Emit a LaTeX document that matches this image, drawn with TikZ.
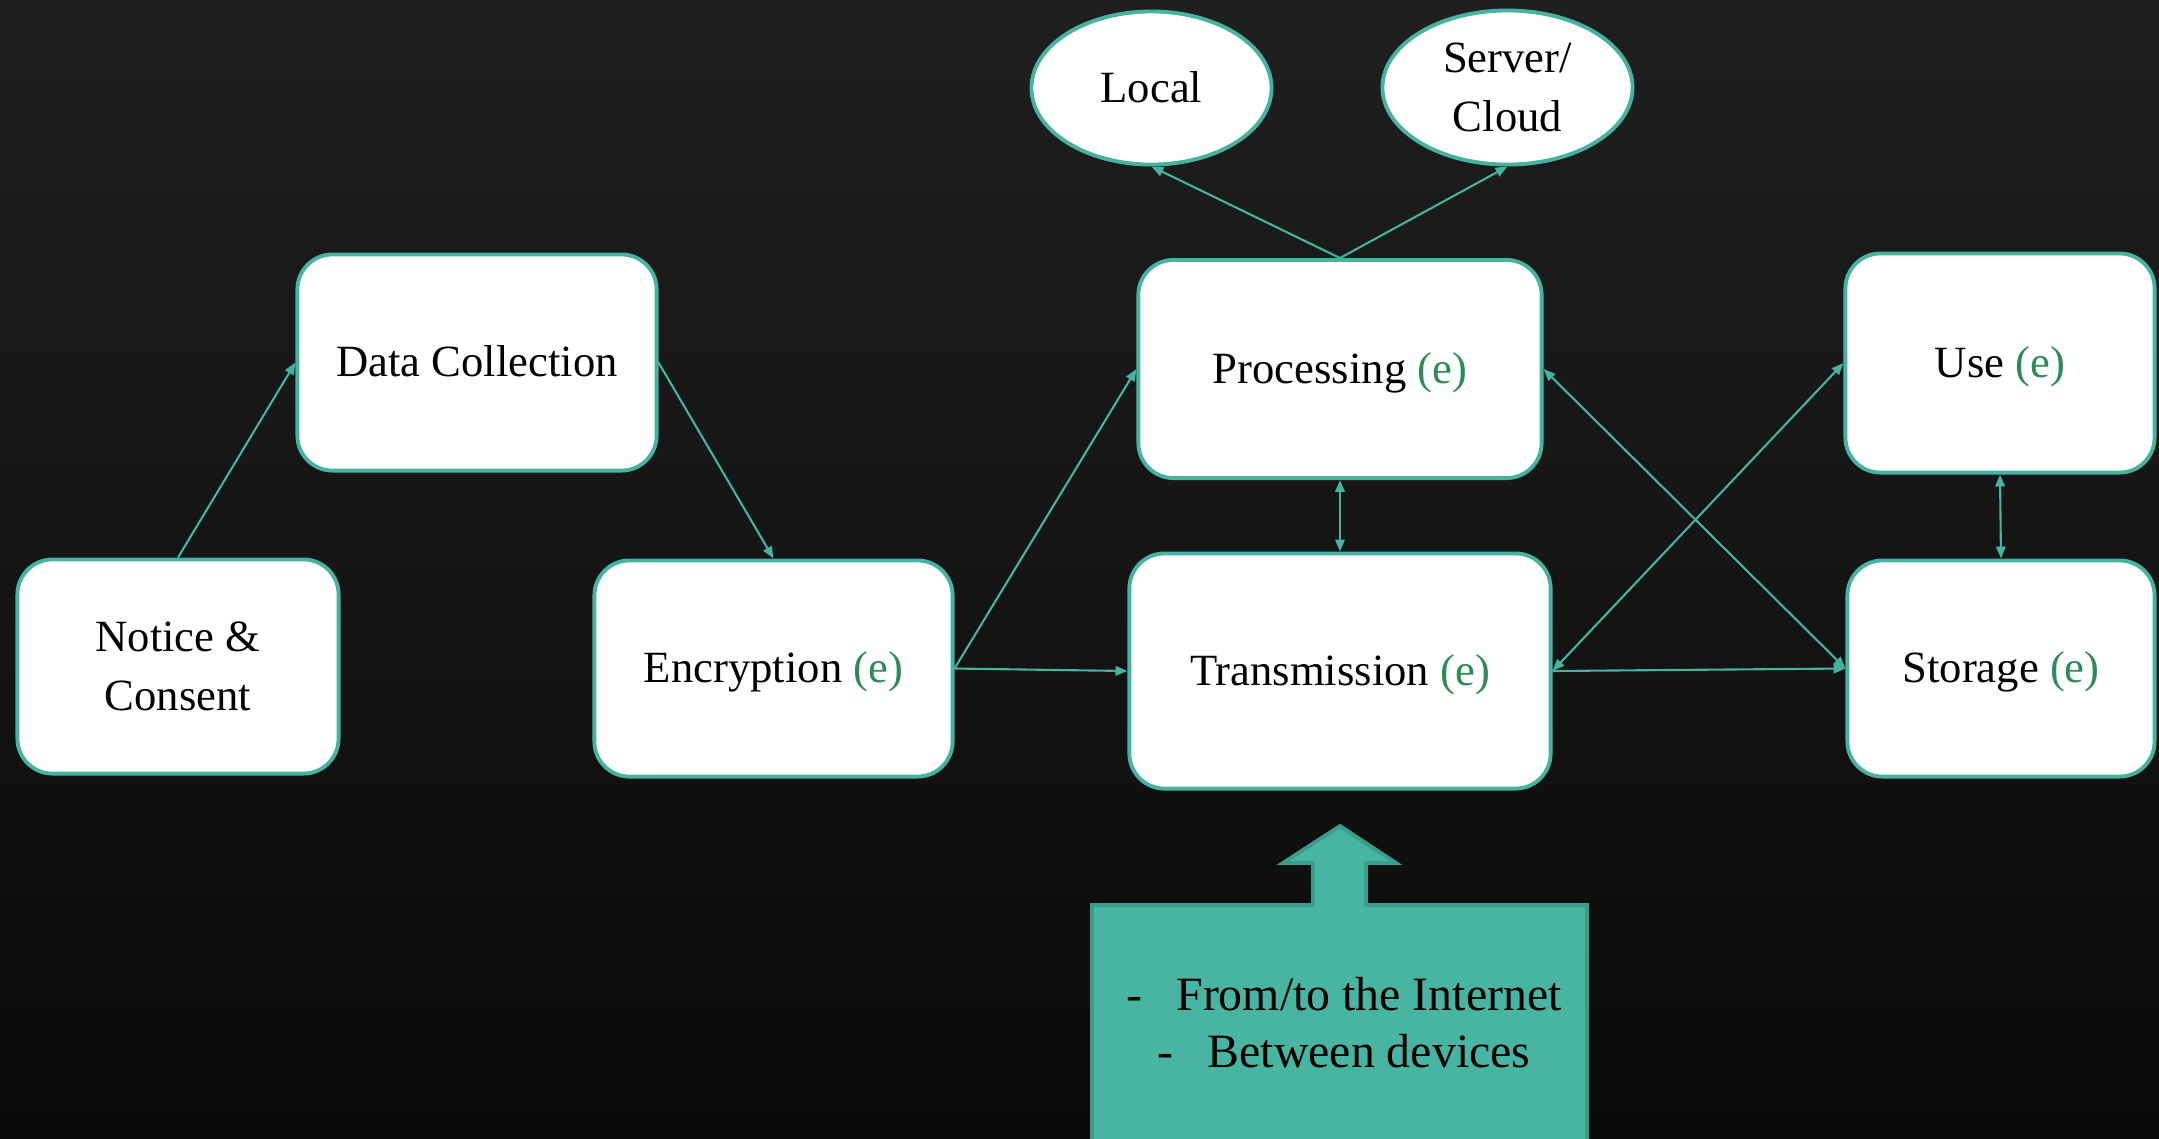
\documentclass[tikz,border=0pt]{standalone}
\usepackage{fontspec}
\setmainfont{Liberation Serif}
\usetikzlibrary{shapes.geometric,arrows.meta}
\definecolor{teal1}{HTML}{45B3A0}
\definecolor{calloutfill}{HTML}{47B5A2}
\definecolor{calloutedge}{HTML}{3C9C8A}
\definecolor{egreen}{HTML}{2E8B57}
\definecolor{bgtop}{HTML}{1F1F1F}
\definecolor{bgbot}{HTML}{0A0A0A}
\newcommand{\eg}{\textcolor{egreen}{(e)}}
\begin{document}
\begin{tikzpicture}[x=0.01cm,y=-0.01cm,
  box/.style={draw=teal1, line width=1.1pt, fill=white, rounded corners=0.35cm, inner sep=0pt, align=center, font=\fontsize{12.7}{16.6}\selectfont},
  oneline/.style={text height=0.82em, text depth=0pt},
  oval/.style={ellipse, draw=teal1, line width=1.1pt, fill=white, inner sep=0pt, align=center, font=\fontsize{12.7}{16.6}\selectfont},
  conn/.style={draw=teal1, line width=0.6pt, -{Triangle[length=3.4pt,width=2.7pt]}},
  conn2/.style={draw=teal1, line width=0.6pt, {Triangle[length=3.4pt,width=2.7pt]}-{Triangle[length=3.4pt,width=2.7pt]}},
  ctext/.style={anchor=base, font=\fontsize{13.6}{16.3}\selectfont, inner sep=0pt}]
\useasboundingbox (0,0) rectangle (2159,1138);
\clip (0,0) rectangle (2159,1138);
\shade[top color=bgtop, bottom color=bgbot] (0cm,0cm) rectangle (21.59cm,-11.38cm);

\node[box, minimum width=3.21cm, minimum height=2.14cm] (notice) at (178,666.5) {Notice \&\\Consent};
\node[box, oneline, minimum width=3.59cm, minimum height=2.16cm] (dc) at (477,362.5) {Data Collection};
\node[box, oneline, minimum width=3.58cm, minimum height=2.16cm] (enc) at (773.5,668.5) {Encryption \eg};
\node[box, oneline, minimum width=4.03cm, minimum height=2.18cm] (proc) at (1340,369) {Processing \eg};
\node[box, oneline, minimum width=4.21cm, minimum height=2.35cm] (trans) at (1340,671) {Transmission \eg};
\node[box, oneline, minimum width=3.09cm, minimum height=2.19cm] (use) at (2000,363) {Use \eg};
\node[box, oneline, minimum width=3.07cm, minimum height=2.16cm] (stor) at (2001,668.5) {Storage \eg};
\node[oval, oneline, minimum width=2.40cm, minimum height=1.53cm] (local) at (1151.5,88) {Local};
\node[oval, minimum width=2.50cm, minimum height=1.54cm] (server) at (1507.5,87.5) {Server/\\Cloud};

\draw[conn] (notice.north) -- (dc.west);
\draw[conn] (dc.east) -- (enc.north);
\draw[conn] (enc.east) -- (proc.west);
\draw[conn] (enc.east) -- (trans.west);
\draw[conn] (proc.north) -- (local.south);
\draw[conn] (proc.north) -- (server.south);
\draw[conn2] (proc.south) -- (trans.north);
\draw[conn2] (trans.east) -- (use.west);
\draw[conn2] (proc.east) -- (stor.west);
\draw[conn] (trans.east) -- (stor.west);
\draw[conn2] (use.south) -- (stor.north);

\draw[fill=calloutfill, draw=calloutedge, line width=1.1pt, line join=miter]
  (1092,1160) -- (1092,905) -- (1313,905) -- (1313,863) -- (1283,863) -- (1340,826)
  -- (1396,863) -- (1366,863) -- (1366,905) -- (1587,905) -- (1587,1160);
\node[ctext] (cl1) at (1344,1010) {\makebox[0.5cm][l]{-}From/to the Internet};
\node[ctext] (cl2) at (1344,1067) {\makebox[0.5cm][l]{-}Between devices};
\end{tikzpicture}
\end{document}
